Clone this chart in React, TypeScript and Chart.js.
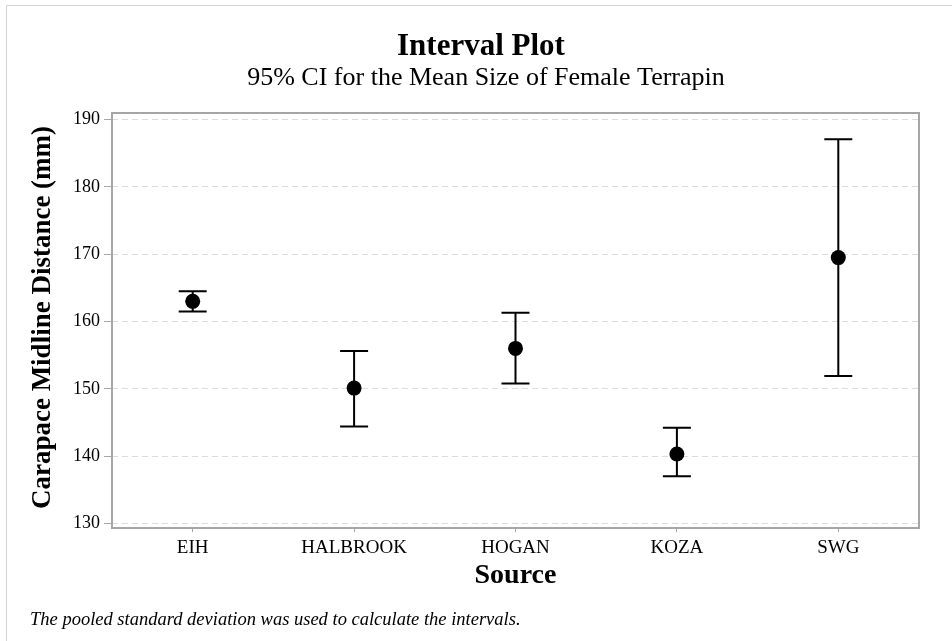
import React, { useEffect, useRef } from "react";
import { Chart, registerables } from "chart.js";

Chart.register(...registerables);

// ---- data ----
const categories = ["EIH", "HALBROOK", "HOGAN", "KOZA", "SWG"];
const means = [163.0, 150.1, 156.0, 140.3, 169.5];
const lowerCI = [161.5, 144.4, 150.8, 137.0, 151.9];
const upperCI = [164.5, 155.6, 161.3, 144.2, 187.1];
const yTicks = [130, 140, 150, 160, 170, 180, 190];

const titleText = "Interval Plot";
const subtitleText = "95% CI for the Mean Size of Female Terrapin";
const xTitleText = "Source";
const yTitleText = "Carapace Midline Distance (mm)";
const footnoteText = "The pooled standard deviation was used to calculate the intervals.";

const FONT = '"Liberation Serif", "Times New Roman", serif';

const framePlugin = {
  id: "frame",
  beforeDraw(chart: any) {
    const { ctx, width, height } = chart;
    ctx.save();
    ctx.fillStyle = "#ffffff";
    ctx.fillRect(0, 0, width, height);
    ctx.strokeStyle = "#d4d4d4";
    ctx.lineWidth = 1;
    ctx.beginPath();
    ctx.moveTo(6.5, height);
    ctx.lineTo(6.5, 5.5);
    ctx.lineTo(width, 5.5);
    ctx.stroke();
    ctx.restore();
  },
};

const errorBarPlugin = {
  id: "errorBars",
  beforeDatasetsDraw(chart: any) {
    const { ctx, chartArea, scales } = chart;
    const x = scales.x;
    const y = scales.y;
    ctx.save();
    // plot border
    ctx.strokeStyle = "#a6a6a6";
    ctx.lineWidth = 2;
    ctx.strokeRect(chartArea.left, chartArea.top, chartArea.right - chartArea.left, chartArea.bottom - chartArea.top);
    // error bars
    ctx.strokeStyle = "#000000";
    ctx.lineWidth = 2;
    categories.forEach((_, i) => {
      const px = x.getPixelForValue(i);
      const yl = y.getPixelForValue(lowerCI[i]);
      const yu = y.getPixelForValue(upperCI[i]);
      ctx.beginPath();
      ctx.moveTo(px, yu);
      ctx.lineTo(px, yl);
      ctx.moveTo(px - 14, yu);
      ctx.lineTo(px + 14, yu);
      ctx.moveTo(px - 14, yl);
      ctx.lineTo(px + 14, yl);
      ctx.stroke();
    });
    ctx.restore();
  },
};

const textPlugin = {
  id: "texts",
  afterDraw(chart: any) {
    const { ctx, chartArea } = chart;
    ctx.save();
    ctx.fillStyle = "#000000";
    ctx.textBaseline = "alphabetic";

    ctx.textAlign = "center";
    ctx.font = `bold 31px ${FONT}`;
    ctx.fillText(titleText, 481, 55);

    ctx.font = `26px ${FONT}`;
    ctx.fillText(subtitleText, 486, 85);

    ctx.font = `bold 28px ${FONT}`;
    ctx.fillText(xTitleText, (chartArea.left + chartArea.right) / 2, 583);

    ctx.save();
    ctx.translate(50, (chartArea.top + chartArea.bottom) / 2 - 3);
    ctx.rotate(-Math.PI / 2);
    ctx.font = `bold 27px ${FONT}`;
    ctx.textAlign = "center";
    ctx.fillText(yTitleText, 0, 0);
    ctx.restore();

    ctx.textAlign = "left";
    ctx.font = `italic 18.5px ${FONT}`;
    ctx.fillText(footnoteText, 30, 625);
    ctx.restore();
  },
};

export default function App() {
  const canvasRef = useRef<HTMLCanvasElement | null>(null);

  useEffect(() => {
    const canvas = canvasRef.current;
    if (!canvas) return;
    const chart = new Chart(canvas, {
      type: "line",
      data: {
        labels: categories,
        datasets: [
          {
            data: means,
            showLine: false,
            pointRadius: 7.5,
            pointHoverRadius: 7.5,
            pointBackgroundColor: "#000000",
            pointBorderColor: "#000000",
            pointBorderWidth: 0,
          },
        ],
      },
      options: {
        animation: false,
        responsive: false,
        devicePixelRatio: 1,
        events: [],
        layout: { padding: { top: 113, right: 33, bottom: 83, left: 0 } },
        plugins: {
          legend: { display: false },
          tooltip: { enabled: false },
          title: { display: false },
        },
        scales: {
          x: {
            type: "category",
            offset: true,
            afterFit: (s: any) => {
              s.height = 30;
            },
            grid: {
              drawOnChartArea: false,
              drawTicks: true,
              tickLength: 4,
              tickColor: "#a6a6a6",
              tickWidth: 1,
              offset: false,
            },
            border: { display: false },
            ticks: {
              color: "#000000",
              font: { family: FONT, size: 19 },
              padding: 5,
              maxRotation: 0,
              autoSkip: false,
            },
          },
          y: {
            type: "linear",
            min: 129.3,
            max: 191,
            afterFit: (s: any) => {
              s.width = 112;
            },
            afterBuildTicks: (s: any) => {
              s.ticks = yTicks.map((v) => ({ value: v }));
            },
            grid: {
              color: "#dcdcdc",
              lineWidth: 1,
              drawTicks: true,
              tickLength: 8,
              tickColor: "#a6a6a6",
              tickWidth: 1,
              tickBorderDash: [],
            },
            border: { display: false, dash: [6, 4] },
            ticks: {
              color: "#000000",
              font: { family: FONT, size: 18 },
              padding: 4,
            },
          },
        },
      },
      plugins: [framePlugin, errorBarPlugin, textPlugin],
    } as any);
    return () => chart.destroy();
  }, []);

  return (
    <div style={{ position: "fixed", left: 0, top: 0, width: 952, height: 641, background: "#fff" }}>
      <canvas ref={canvasRef} width={952} height={641} style={{ width: 952, height: 641, display: "block" }} />
    </div>
  );
}
